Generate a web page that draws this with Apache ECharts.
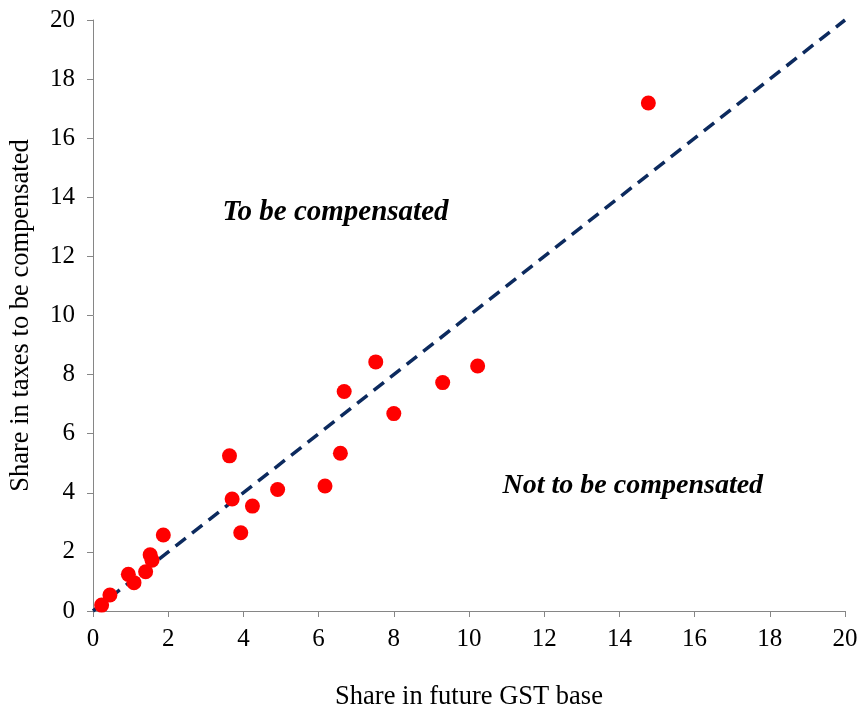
<!DOCTYPE html>
<html><head><meta charset="utf-8">
<script src="https://cdn.jsdelivr.net/npm/echarts@6/dist/echarts.min.js"></script>
<style>html,body{margin:0;padding:0;background:#fff}#c{width:863px;height:712px}</style>
</head><body><div id="c"></div>
<script>
const gstBase = [0.23,0.45,0.94,1.09,1.40,1.52,1.57,1.87,3.63,3.70,3.93,4.24,4.91,6.17,6.58,6.68,7.52,8.00,9.30,10.23,14.77];
const taxShare = [0.20,0.54,1.24,0.96,1.33,1.90,1.72,2.57,5.25,3.79,2.65,3.55,4.11,4.23,5.34,7.43,8.43,6.68,7.73,8.29,17.19];
const diagonal = [[0,0],[20,20]];
const xTitle = 'Share in future GST base';
const yTitle = 'Share in taxes to be compensated';
const labelAbove = 'To be compensated';
const labelBelow = 'Not to be compensated';

const chart = echarts.init(document.getElementById('c'));
const font = 'Liberation Serif, Times New Roman, serif';
const labelStyle = {show: true, position: 'right', distance: 0, color: '#000', opacity: 1,
  fontFamily: font, fontSize: 29, fontStyle: 'italic', fontWeight: 'bold'};
const axisCommon = {
  min: 0, max: 20, interval: 2,
  splitLine: {show: false},
  axisLine: {show: true, lineStyle: {color: '#868686', width: 1}},
  axisTick: {show: true, inside: false, length: 6, lineStyle: {color: '#868686'}},
  axisLabel: {color: '#000', fontFamily: font, fontSize: 25}
};
chart.setOption({
  animation: false,
  grid: {left: 93, right: 18, top: 20, bottom: 101, containLabel: false, outerBoundsMode: 'none'},
  xAxis: Object.assign({}, axisCommon, {type: 'value', name: xTitle, nameLocation: 'middle', nameGap: 73,
    nameTextStyle: {color: '#000', fontFamily: font, fontSize: 26.5},
    axisLabel: Object.assign({}, axisCommon.axisLabel, {margin: 16})}),
  yAxis: Object.assign({}, axisCommon, {type: 'value', name: yTitle, nameLocation: 'middle', nameGap: 58,
    nameTextStyle: {color: '#000', fontFamily: font, fontSize: 26.5},
    axisLabel: Object.assign({}, axisCommon.axisLabel, {margin: 18})}),
  series: [
    {type: 'line', data: diagonal, symbol: 'none', z: 1,
      lineStyle: {color: '#0c2a5e', width: 3.5, type: [13, 8]}},
    {type: 'scatter', data: gstBase.map((x, i) => [x, taxShare[i]]), symbolSize: 15, z: 2,
      itemStyle: {color: '#ff0000', opacity: 1}},
    {type: 'scatter', symbolSize: 1, silent: true, z: 3,
      itemStyle: {opacity: 1, color: 'rgba(0,0,0,0)'},
      data: [
        {value: [3.43, 13.47], label: Object.assign({}, labelStyle, {formatter: labelAbove})},
        {value: [10.88, 4.23], label: Object.assign({}, labelStyle, {formatter: labelBelow, fontSize: 28})}
      ]}
  ]
});
</script></body></html>
